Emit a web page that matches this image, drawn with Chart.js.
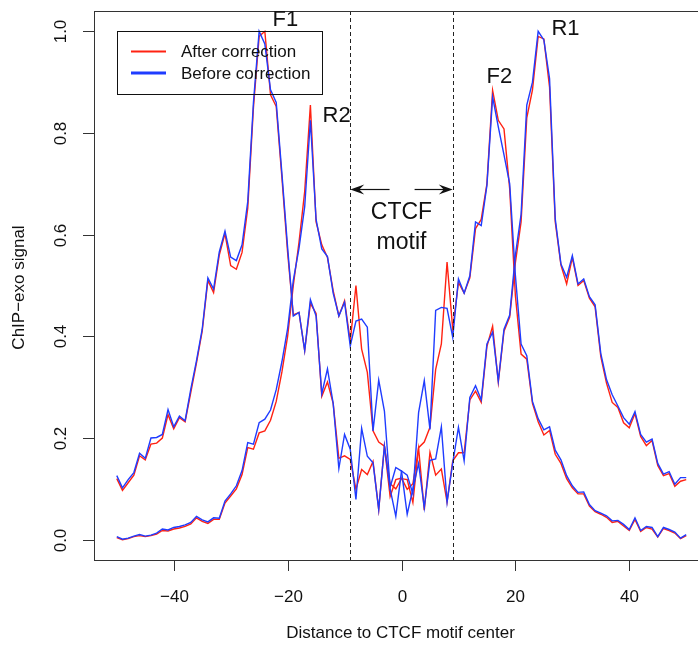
<!DOCTYPE html>
<html>
<head>
<meta charset="utf-8">
<title>ChIP-exo signal around CTCF motif</title>
<script src="https://cdn.jsdelivr.net/npm/chart.js@4.4.1/dist/chart.umd.min.js"></script>
<style>
  html, body { margin:0; padding:0; background:#fff; overflow:hidden; }
  #wrap { width:720px; height:648px; }
  canvas { display:block; }
</style>
</head>
<body>
<div id="wrap"><canvas id="chart" width="720" height="648"></canvas></div>
<script>
// distance to motif centre (bp)
const positions = [
  -50,-49,-48,-47,-46,-45,-44,-43,-42,-41,-40,-39,-38,-37,-36,-35,-34,-33,-32,-31,
  -30,-29,-28,-27,-26,-25,-24,-23,-22,-21,-20,-19,-18,-17,-16,-15,-14,-13,-12,-11,
  -10,-9,-8,-7,-6,-5,-4,-3,-2,-1,0,1,2,3,4,5,6,7,8,9,
  10,11,12,13,14,15,16,17,18,19,20,21,22,23,24,25,26,27,28,29,
  30,31,32,33,34,35,36,37,38,39,40,41,42,43,44,45,46,47,48,49,50
];

// forward strand, before / after correction
const fwdBefore = [
  0.126,0.102,0.118,0.132,0.170,0.160,0.200,0.201,0.207,0.256,0.222,0.243,0.234,0.296,0.352,0.414,0.515,0.493,0.566,0.607,
  0.556,0.549,0.580,0.665,0.860,1.000,0.975,0.885,0.860,0.720,0.575,0.440,0.447,0.372,0.472,0.440,0.287,0.336,0.268,0.140,
  0.207,0.178,0.079,0.219,0.164,0.151,0.059,0.184,0.100,0.046,0.135,0.127,0.090,0.250,0.313,0.217,0.451,0.457,0.455,0.398,
  0.513,0.485,0.519,0.625,0.618,0.697,0.871,0.812,0.757,0.700,0.520,0.385,0.362,0.272,0.238,0.216,0.222,0.176,0.157,0.126,
  0.106,0.093,0.094,0.069,0.057,0.052,0.047,0.037,0.038,0.030,0.020,0.043,0.018,0.026,0.024,0.006,0.024,0.020,0.015,0.003,0.010
];
const fwdAfter = [
  0.120,0.097,0.112,0.127,0.165,0.157,0.188,0.190,0.200,0.246,0.218,0.240,0.232,0.290,0.348,0.410,0.510,0.486,0.560,0.602,
  0.539,0.532,0.565,0.652,0.850,0.990,1.000,0.875,0.852,0.712,0.565,0.442,0.447,0.372,0.465,0.445,0.282,0.310,0.268,0.160,
  0.165,0.158,0.099,0.138,0.128,0.154,0.059,0.184,0.110,0.100,0.120,0.118,0.073,0.181,0.192,0.221,0.335,0.385,0.546,0.414,
  0.506,0.485,0.515,0.612,0.630,0.700,0.884,0.825,0.808,0.690,0.480,0.365,0.355,0.268,0.232,0.206,0.215,0.168,0.150,0.120,
  0.102,0.090,0.090,0.066,0.055,0.050,0.044,0.034,0.036,0.027,0.018,0.040,0.016,0.024,0.021,0.005,0.022,0.018,0.013,0.002,0.008
];

// reverse strand, before / after correction
const revBefore = [
  0.006,0.001,0.003,0.007,0.010,0.007,0.009,0.013,0.021,0.019,0.024,0.026,0.029,0.034,0.046,0.039,0.035,0.043,0.042,0.076,
  0.090,0.106,0.136,0.191,0.188,0.230,0.237,0.255,0.295,0.350,0.415,0.510,0.573,0.655,0.825,0.630,0.572,0.557,0.485,0.440,
  0.467,0.381,0.430,0.434,0.418,0.214,0.314,0.253,0.103,0.142,0.135,0.050,0.100,0.150,0.063,0.156,0.159,0.222,0.074,0.151,
  0.221,0.155,0.280,0.303,0.275,0.385,0.408,0.312,0.414,0.442,0.560,0.640,0.855,0.900,1.000,0.983,0.907,0.631,0.542,0.516,
  0.559,0.503,0.513,0.478,0.462,0.366,0.315,0.285,0.263,0.240,0.227,0.252,0.207,0.192,0.198,0.150,0.129,0.134,0.109,0.122,0.122
];
const revAfter = [
  0.004,0.000,0.002,0.006,0.008,0.006,0.008,0.011,0.018,0.017,0.021,0.023,0.026,0.031,0.043,0.036,0.032,0.040,0.040,0.072,
  0.086,0.100,0.128,0.181,0.178,0.210,0.214,0.235,0.272,0.330,0.400,0.500,0.585,0.685,0.855,0.625,0.580,0.555,0.490,0.440,
  0.470,0.390,0.500,0.375,0.329,0.214,0.192,0.184,0.085,0.118,0.121,0.099,0.110,0.180,0.058,0.172,0.127,0.139,0.074,0.155,
  0.171,0.171,0.275,0.292,0.270,0.380,0.420,0.310,0.410,0.438,0.545,0.625,0.830,0.885,0.990,0.985,0.890,0.625,0.540,0.503,
  0.555,0.500,0.510,0.475,0.458,0.360,0.308,0.270,0.260,0.230,0.220,0.248,0.203,0.185,0.195,0.146,0.126,0.130,0.105,0.115,0.118
];

const xTicks = [-40, -20, 0, 20, 40];
const yTicks = [0, 0.2, 0.4, 0.6, 0.8, 1.0];
const motifEdges = [-9, 9];

// peak labels: [text, x, y]
const peakLabels = [
  ['F1', -20.4, 1.022],
  ['R2', -11.4, 0.834],
  ['F2', 17.2, 0.910],
  ['R1', 28.8, 1.004]
];

const RED = '#ff2212';
const BLUE = '#1f3cff';
const FONT = '"Liberation Sans", Arial, sans-serif';

const pts = vals => positions.map((p, i) => ({ x: p, y: vals[i] }));
const lineDs = (label, vals, color, order) => ({
  label, data: pts(vals), borderColor: color, borderWidth: 1.4,
  pointRadius: 0, tension: 0, fill: false, order
});

const decorations = {
  id: 'decorations',
  afterDatasetsDraw(chart){
    const { ctx, chartArea: a, scales: { x, y } } = chart;
    const seg = (x1, y1, x2, y2) => { ctx.beginPath(); ctx.moveTo(x1, y1); ctx.lineTo(x2, y2); ctx.stroke(); };
    ctx.save();

    // motif boundaries
    ctx.strokeStyle = '#222'; ctx.lineWidth = 1; ctx.setLineDash([4, 3]);
    motifEdges.forEach(v => {
      const px = Math.round(x.getPixelForValue(v)) + 0.5;
      seg(px, a.top, px, a.bottom);
    });
    ctx.setLineDash([]);

    // plot frame
    ctx.strokeStyle = '#333';
    ctx.strokeRect(Math.round(a.left) + 0.5, Math.round(a.top) + 0.5, a.right - a.left, a.bottom - a.top);

    // axes ticks + labels
    ctx.fillStyle = '#111';
    ctx.font = '17px ' + FONT;
    ctx.textAlign = 'center'; ctx.textBaseline = 'middle';
    xTicks.forEach(v => {
      const px = Math.round(x.getPixelForValue(v)) + 0.5;
      seg(px, a.bottom, px, a.bottom + 11);
      ctx.fillText(v < 0 ? '\u2212' + Math.abs(v) : String(v), px, a.bottom + 37);
    });
    yTicks.forEach(v => {
      const py = Math.round(y.getPixelForValue(v)) + 0.5;
      seg(a.left - 11, py, a.left, py);
      ctx.save();
      ctx.translate(a.left - 33, py);
      ctx.rotate(-Math.PI / 2);
      ctx.fillText(v.toFixed(1), 0, 0);
      ctx.restore();
    });

    // axis titles
    ctx.fillText('Distance to CTCF motif center', (a.left + x.getPixelForValue(54)) / 2 - 1, a.bottom + 73);
    ctx.save();
    ctx.translate(a.left - 75, (a.top + a.bottom) / 2 + 2);
    ctx.rotate(-Math.PI / 2);
    ctx.fillText('ChIP\u2212exo signal', 0, 0);
    ctx.restore();

    // peak annotations
    ctx.font = '22px ' + FONT;
    peakLabels.forEach(([t, vx, vy]) => ctx.fillText(t, x.getPixelForValue(vx), y.getPixelForValue(vy)));

    // CTCF motif arrows + text
    const ay = Math.round(y.getPixelForValue(0.69)) + 0.5;
    const arrow = (from, to) => {
      const x1 = x.getPixelForValue(from), x2 = x.getPixelForValue(to);
      const dir = Math.sign(x2 - x1);
      ctx.strokeStyle = '#111'; ctx.lineWidth = 1.2;
      seg(x1, ay, x2 - dir * 8, ay);
      ctx.beginPath();
      ctx.moveTo(x2, ay);
      ctx.lineTo(x2 - dir * 14, ay - 5);
      ctx.lineTo(x2 - dir * 9, ay);
      ctx.lineTo(x2 - dir * 14, ay + 5);
      ctx.closePath(); ctx.fill();
    };
    arrow(-2.1, -9);
    arrow(2.3, 9);
    ctx.font = '23px ' + FONT;
    ctx.fillText('CTCF', x.getPixelForValue(0), y.getPixelForValue(0.643));
    ctx.fillText('motif', x.getPixelForValue(0), y.getPixelForValue(0.585));

    // legend (no fill, R style)
    ctx.strokeStyle = '#111'; ctx.lineWidth = 1;
    ctx.strokeRect(117.5, 31.5, 205, 63);
    ctx.font = '17px ' + FONT; ctx.textAlign = 'left';
    [['After correction', RED, 2, 51.5], ['Before correction', BLUE, 3, 73]].forEach(([t, c, w, ly]) => {
      ctx.strokeStyle = c; ctx.lineWidth = w;
      seg(131, ly, 166, ly);
      ctx.fillText(t, 181, ly + 1);
    });

    ctx.restore();
  }
};

new Chart(document.getElementById('chart'), {
  type: 'line',
  data: {
    datasets: [
      lineDs('Before correction (F)', fwdBefore, BLUE, 0),
      lineDs('Before correction (R)', revBefore, BLUE, 1),
      lineDs('After correction (F)', fwdAfter, RED, 2),
      lineDs('After correction (R)', revAfter, RED, 3)
    ]
  },
  options: {
    responsive: false,
    animation: false,
    devicePixelRatio: 1,
    layout: { padding: { left: 94, right: 11, top: 11, bottom: 88 } },
    plugins: { legend: { display: false }, tooltip: { enabled: false } },
    scales: {
      x: { type: 'linear', min: -54, max: 54, display: false },
      y: { type: 'linear', min: -0.04, max: 1.04, display: false }
    }
  },
  plugins: [decorations]
});
</script>
</body>
</html>
